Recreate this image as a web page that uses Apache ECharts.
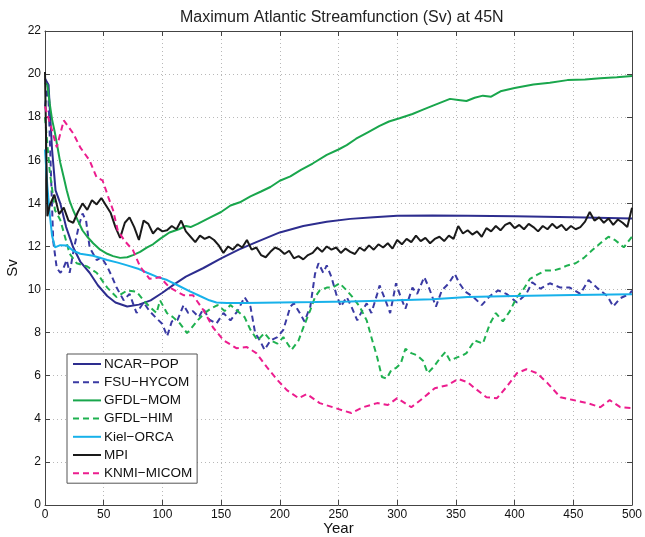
<!DOCTYPE html>
<html>
<head>
<meta charset="utf-8">
<script src="https://cdn.jsdelivr.net/npm/echarts@6/dist/echarts.min.js"></script>
<style>
html,body{margin:0;padding:0;background:#fff;}
#chart{width:645px;height:537px;}
</style>
</head>
<body>
<div id="chart"></div>
<script>
// ---- Data (years, Sv) ----
const seriesNames = ['NCAR−POP','FSU−HYCOM','GFDL−MOM','GFDL−HIM','Kiel−ORCA','MPI','KNMI−MICOM'];

const ncarYears = [0,3,6,9,13,18,24,30,38,45,53,60,70,80,90,100,110,120,135,150,165,180,200,220,240,260,280,300,330,360,400,450,500];
const ncarValues = [19.8,19.5,16.5,14.6,14.0,12.9,11.96,11.3,10.78,10.2,9.7,9.4,9.21,9.3,9.5,9.85,10.24,10.6,11.0,11.45,11.85,12.2,12.65,12.95,13.15,13.28,13.36,13.42,13.44,13.43,13.4,13.35,13.3];

const fsuYears = [0,2.6,5,7,10,13,15,18.5,21,25,29,32,35,38,44,48,53,57,61,67,72,78,84,89,94,100,104,108,113,118,122,126,131,135,140,146,152,158,164,170,175,179,183,187,192,198,203,209,212,217,221,226,230,233,237,240,244,248,252,257,261,266,270,274,278,283,285,290,294,299,303,307,313,317,323,327,333,338,344,349,353,358,365,372,379,386,393,402,410,415,422,430,439,447,456,463,470,479,484,490,498,500];
const fsuValues = [18.5,19.56,15.5,12.25,11.0,10.78,10.9,11.37,10.78,12.0,13.0,13.53,13.2,11.96,11.37,11.5,11.07,10.6,10.09,9.5,9.8,8.91,9.4,9.0,8.72,8.4,7.83,8.52,8.6,9.28,8.91,9.0,8.72,9.11,8.6,8.42,8.91,8.57,9.0,9.65,9.21,7.98,7.64,7.2,7.64,7.79,8.13,9.21,9.36,8.91,8.52,9.21,10.73,11.22,10.78,11.12,10.58,9.8,9.21,9.65,9.21,8.57,9.0,9.36,8.91,9.8,10.19,9.5,8.91,10.29,9.65,9.11,10.09,9.8,10.58,10.09,9.21,9.96,10.29,10.73,10.29,9.9,9.65,9.28,9.7,9.96,9.8,9.4,9.8,10.34,10.04,10.29,10.09,10.09,9.8,10.44,10.09,9.7,9.21,9.6,9.8,9.95];

const momYears = [0,2,4,6,8.5,11,13,16,18.5,21,24,28,32,36,41,47,53,58,64,70,75,81,87,92,98,106,114,120,124,130,140,150,158,166,175,184,192,200,209,218,228,240,250,257,265,275,285,293,302,313,322,331,338,345,352,359,366,373,380,388,400,416,430,445,460,473,487,500];
const momValues = [19.6,19.5,18.64,17.9,17.26,16.5,15.89,15.2,14.61,14.1,13.68,13.2,12.74,12.45,12.15,11.85,11.66,11.55,11.47,11.5,11.6,11.75,11.96,12.1,12.35,12.65,12.8,12.95,12.9,13.05,13.33,13.6,13.9,14.05,14.32,14.55,14.76,15.05,15.25,15.55,15.85,16.25,16.5,16.7,17.0,17.3,17.6,17.8,17.95,18.15,18.35,18.55,18.7,18.85,18.8,18.75,18.9,19.0,18.95,19.2,19.35,19.52,19.6,19.72,19.75,19.81,19.85,19.91];

const himYears = [0,4,8.5,13,17,21,27,36,44,53,61,70,78,84,89,95,98,104,109,115,121,125,130,136,141,147,153,158,164,170,175,181,187,192,198,203,210,216,220,226,230,234,240,245,251,257,262,268,274,278,283,287,291,295,299,303,307,312,317,322,326,331,337,341,345,351,356,359,366,373,379,384,390,396,402,407,413,419,426,433,439,445,452,459,466,473,480,486,493,500];
const himValues = [18.0,15.5,13.68,13.23,12.45,11.66,11.22,11.07,10.78,10.09,9.65,9.96,9.9,9.5,9.21,8.91,9.5,8.9,8.72,8.42,7.98,8.23,8.57,8.91,9.11,9.28,9.0,9.28,9.0,8.72,8.13,7.64,7.98,7.64,7.49,7.79,7.2,7.64,8.23,9.05,9.65,9.96,10.09,10.09,10.29,9.96,9.65,9.21,8.57,7.79,6.85,5.94,5.87,6.26,6.36,6.56,7.25,7.05,6.95,6.7,6.12,6.41,6.85,7.1,6.7,6.85,6.95,7.05,7.64,7.49,8.42,8.91,8.52,9.0,9.65,9.96,10.49,10.68,10.88,10.88,10.98,11.12,11.22,11.47,11.82,12.15,12.45,12.28,11.96,12.45];

const kielYears = [0,2,4,6,8.5,13,18.5,24,30,41,53,62,70,80,87,95,104,113,123,132,140,146,155,170,200,230,260,300,330,360,400,450,500];
const kielValues = [16.5,14.8,13.53,12.5,11.96,12.06,12.05,11.8,11.66,11.57,11.37,11.25,11.12,10.95,10.78,10.6,10.44,10.2,9.93,9.7,9.5,9.4,9.38,9.38,9.4,9.42,9.45,9.5,9.55,9.65,9.7,9.75,9.78];

const mpiYears = [0,2,4,8,12,16,20,24,28,32,36,40,44,48,52,56,60,64,68,72,76,80,84,88,92,96,100,104,108,112,116,120,124,128,132,136,140,144,148,152,156,160,164,168,172,176,180,184,188,192,196,200,204,208,212,216,220,224,228,232,236,240,244,248,252,256,260,264,268,272,276,280,284,288,292,296,300,304,308,312,316,320,324,328,332,336,340,344,348,352,356,360,364,368,372,376,380,384,388,392,396,400,404,408,412,416,420,424,428,432,436,440,444,448,452,456,460,464,468,472,476,480,484,488,492,496,500];
const mpiValues = [20.1,13.4,13.9,14.4,13.5,13.8,13.2,13.1,13.6,14.0,13.7,14.15,13.95,14.25,13.9,13.55,12.9,12.4,13.1,13.35,12.9,12.3,13.2,13.05,12.6,12.85,12.7,12.75,12.95,12.8,13.2,12.7,12.45,12.2,12.5,12.35,12.45,12.3,12.05,11.7,12.0,11.85,12.1,11.95,12.3,11.85,11.95,11.6,11.5,11.75,11.95,11.85,11.65,11.8,11.45,11.55,11.4,11.6,11.7,11.95,11.75,12.0,11.85,11.95,11.7,11.9,11.75,11.65,11.95,11.8,12.05,11.85,12.1,11.95,12.15,11.9,12.3,12.1,12.35,12.2,12.5,12.25,12.4,12.15,12.35,12.45,12.25,12.5,12.35,12.95,12.6,12.75,12.55,12.7,12.45,12.85,12.7,12.95,12.75,13.0,13.1,12.85,13.0,12.8,13.05,12.9,12.7,12.95,12.8,13.05,12.85,13.0,12.75,12.95,12.8,12.9,13.15,13.6,13.2,13.35,13.1,13.3,13.0,13.25,13.1,12.9,13.8];

const knmiYears = [0,6,10,16,24,30,38,44,49,54,58,62,68,75,81,89,98,106,118,126,135,143,152,163,172,180,189,198,206,216,223,234,245,253,261,271,283,292,300,312,320,332,343,352,360,365,376,385,393,402,410,419,428,439,450,462,473,481,490,500];
const knmiValues = [18.5,17.39,16.6,17.85,17.25,16.6,15.99,15.2,15.07,14.28,13.68,12.74,12.25,11.82,11.07,10.5,10.57,10.1,9.74,9.74,9.04,8.25,7.65,7.28,7.33,7.05,6.4,5.8,5.33,4.96,5.15,4.73,4.54,4.4,4.27,4.54,4.73,4.64,4.96,4.54,4.87,5.42,5.56,5.85,5.7,5.47,5.0,4.96,5.47,6.12,6.3,6.12,5.66,5.0,4.87,4.73,4.54,4.87,4.54,4.5];

const xTicks = {min:0, max:500, step:50};
const yTicks = {min:0, max:22, step:2};

// ---- Build chart ----
const pairs = (xs, ys) => xs.map((x, i) => [x, ys[i]]);
const styles = [
  {color:'#2d2d8e', type:'solid'},
  {color:'#3a3aa3', type:[6,4]},
  {color:'#19a64c', type:'solid'},
  {color:'#1fb150', type:[6,4]},
  {color:'#17b1ea', type:'solid'},
  {color:'#1a1a1a', type:'solid'},
  {color:'#ec1d8e', type:[6,4]}
];
const datasets = [
  pairs(ncarYears, ncarValues),
  pairs(fsuYears, fsuValues),
  pairs(momYears, momValues),
  pairs(himYears, himValues),
  pairs(kielYears, kielValues),
  pairs(mpiYears, mpiValues),
  pairs(knmiYears, knmiValues)
];

const FONT = 'Liberation Sans, Arial, Helvetica, sans-serif';
const chart = echarts.init(document.getElementById('chart'), null, {renderer:'canvas'});
const gridLine = {show:true, lineStyle:{type:[1,3], color:'#b8b8b8', width:1}};
const axLine = {show:true, onZero:false, lineStyle:{color:'#444', width:1}};

chart.setOption({
  animation:false,
  backgroundColor:'#fff',
  textStyle:{fontFamily:FONT},
  title:{
    text:'Maximum Atlantic Streamfunction (Sv) at 45N',
    left:175, top:5,
    textStyle:{fontSize:16, fontWeight:'normal', color:'#222', fontFamily:FONT}
  },
  grid:{left:45, right:13, top:31, bottom:32, containLabel:false, outerBoundsMode:'none'},
  legend:{
    orient:'vertical', left:67, top:354,
    padding:[3,5,3,5], itemGap:4.2, itemWidth:28, itemHeight:14,
    backgroundColor:'#fff', borderColor:'#555', borderWidth:1,
    itemStyle:{opacity:0},
    textStyle:{fontSize:13.5, color:'#111', fontFamily:FONT, padding:[0,0,0,-2]},
    data:seriesNames
  },
  xAxis:[
    {type:'value', min:xTicks.min, max:xTicks.max, interval:xTicks.step, position:'bottom',
     axisLine:axLine, axisTick:{show:true, inside:true, length:5, lineStyle:{color:'#444'}},
     axisLabel:{fontSize:12, color:'#111', margin:4, fontFamily:FONT},
     splitLine:gridLine,
     name:'Year', nameLocation:'middle', nameGap:16, nameMoveOverlap:false,
     nameTextStyle:{fontSize:15, color:'#111', fontFamily:FONT, verticalAlign:'top', lineHeight:15}},
    {type:'value', min:xTicks.min, max:xTicks.max, interval:xTicks.step, position:'top',
     axisLine:axLine, axisTick:{show:true, inside:true, length:5, lineStyle:{color:'#444'}},
     axisLabel:{show:false}, splitLine:{show:false}}
  ],
  yAxis:[
    {type:'value', min:yTicks.min, max:yTicks.max, interval:yTicks.step, position:'left',
     axisLine:axLine, axisTick:{show:true, inside:true, length:5, lineStyle:{color:'#444'}},
     axisLabel:{fontSize:12, color:'#111', margin:4, fontFamily:FONT},
     splitLine:gridLine,
     name:'Sv', nameLocation:'middle', nameGap:25, nameRotate:90, nameMoveOverlap:false,
     nameTextStyle:{fontSize:15, color:'#111', fontFamily:FONT}},
    {type:'value', min:yTicks.min, max:yTicks.max, interval:yTicks.step, position:'right',
     axisLine:axLine, axisTick:{show:true, inside:true, length:5, lineStyle:{color:'#444'}},
     axisLabel:{show:false}, splitLine:{show:false}}
  ],
  series: seriesNames.map((name, i) => ({
    name, type:'line', xAxisIndex:0, yAxisIndex:0,
    data: datasets[i], symbol:'none', showSymbol:false, smooth:false,
    lineStyle:{color:styles[i].color, width:2, type:styles[i].type},
    itemStyle:{color:styles[i].color},
    emphasis:{disabled:true}, z: 2 + i
  }))
});
</script>
</body>
</html>
